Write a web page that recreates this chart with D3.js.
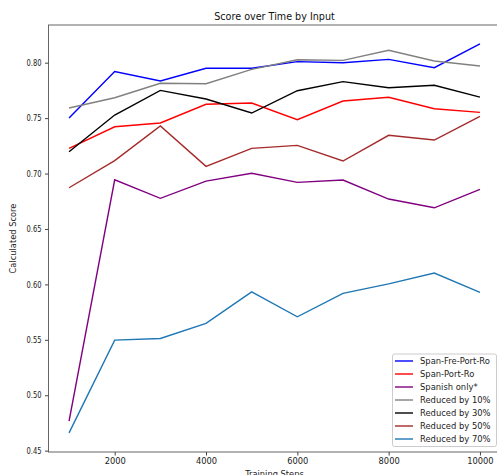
<!DOCTYPE html>
<html><head><meta charset="utf-8">
<script src="https://cdn.jsdelivr.net/npm/d3@7"></script>
<style>body{margin:0;background:#fff;} text{font-family:"DejaVu Sans",sans-serif;}</style>
</head><body>
<svg id="c" width="497" height="475"></svg>
<script>
const steps = [1000,2000,3000,4000,5000,6000,7000,8000,9000,10000];
const spanFrePortRo = [0.750,0.792,0.7835,0.795,0.795,0.801,0.800,0.803,0.7955,0.817];
const spanPortRo    = [0.7227,0.7422,0.7456,0.7625,0.7636,0.7486,0.7654,0.7688,0.7585,0.7552];
const spanishOnly   = [0.4767,0.6944,0.6776,0.6932,0.7002,0.692,0.6941,0.677,0.6691,0.6857];
const reduced10     = [0.7591,0.7684,0.7814,0.781,0.794,0.8027,0.8021,0.8112,0.8015,0.797];
const reduced30     = [0.7197,0.7528,0.775,0.7672,0.7546,0.7747,0.7829,0.7774,0.7796,0.769];
const reduced50     = [0.6872,0.7116,0.7429,0.7065,0.7227,0.7254,0.7113,0.7345,0.7302,0.7516];
const reduced70     = [0.4661,0.5497,0.5512,0.5648,0.5933,0.5708,0.5919,0.6005,0.6102,0.5928];
const seriesNames = ["Span-Fre-Port-Ro","Span-Port-Ro","Spanish only*","Reduced by 10%","Reduced by 30%","Reduced by 50%","Reduced by 70%"];
const seriesColors = ["#0000ff","#ff0000","#800080","#808080","#000000","#a52a2a","#1f77b4"];
const seriesValues = [spanFrePortRo,spanPortRo,spanishOnly,reduced10,reduced30,reduced50,reduced70];
const xTicks = [2000,4000,6000,8000,10000];
const yTicks = [0.45,0.50,0.55,0.60,0.65,0.70,0.75,0.80];

const svg = d3.select("#c");
const L=48.5, R=500.5, T=25, B=452;
const x = d3.scaleLinear().domain([550,10450]).range([L,R]);
const y = d3.scaleLinear().domain([0.4488,0.834]).range([B,T]);

const line = d3.line().x((d,i)=>x(steps[i])).y(d=>y(d));
const g = svg.append("g");
seriesValues.forEach((vals,k)=>{
  g.append("path").datum(vals).attr("d",line).attr("fill","none")
   .attr("stroke",seriesColors[k]).attr("stroke-width",1.4);
});

// spines
svg.append("rect").attr("x",L).attr("y",T).attr("width",R-L).attr("height",B-T)
  .attr("fill","none").attr("stroke","#666").attr("stroke-width",1);

const xa = svg.append("g").attr("transform",`translate(0,${B})`)
  .call(d3.axisBottom(x).tickValues(xTicks).tickFormat(d3.format("d")).tickSize(3.5).tickPadding(2.5));
const ya = svg.append("g").attr("transform",`translate(${L},0)`)
  .call(d3.axisLeft(y).tickValues(yTicks).tickFormat(d3.format(".2f")).tickSize(3.5).tickPadding(3.5));
[xa,ya].forEach(a=>{
  a.select(".domain").remove();
  a.selectAll("line").attr("stroke","#444");
  a.selectAll("text").attr("fill","#222").style("font-size","8.3px").style("font-family","DejaVu Sans");
});
ya.selectAll("text").attr("textLength",15).attr("lengthAdjust","spacingAndGlyphs");

svg.append("text").attr("x",(L+R)/2).attr("y",20).attr("text-anchor","middle")
  .style("font-size","9.6px").attr("fill","#111").text("Score over Time by Input");
svg.append("text").attr("x",(L+R)/2).attr("y",477).attr("text-anchor","middle")
  .style("font-size","8.3px").attr("fill","#222").text("Training Steps");
svg.append("text").attr("transform",`translate(16,${(T+B)/2}) rotate(-90)`).attr("text-anchor","middle")
  .style("font-size","8.3px").attr("fill","#222").text("Calculated Score");

// legend
const lg = svg.append("g");
lg.append("rect").attr("x",392.5).attr("y",354).attr("width",104).attr("height",92.5).attr("rx",2)
  .attr("fill","#fff").attr("fill-opacity",0.85).attr("stroke","#ccc");
seriesNames.forEach((n,k)=>{
  const yy = 361 + k*13;
  lg.append("line").attr("x1",395).attr("x2",413).attr("y1",yy).attr("y2",yy)
    .attr("stroke",seriesColors[k]).attr("stroke-width",1.4);
  lg.append("text").attr("x",420).attr("y",yy+3).style("font-size","8.4px").attr("fill","#222").text(n);
});
</script>
</body></html>
